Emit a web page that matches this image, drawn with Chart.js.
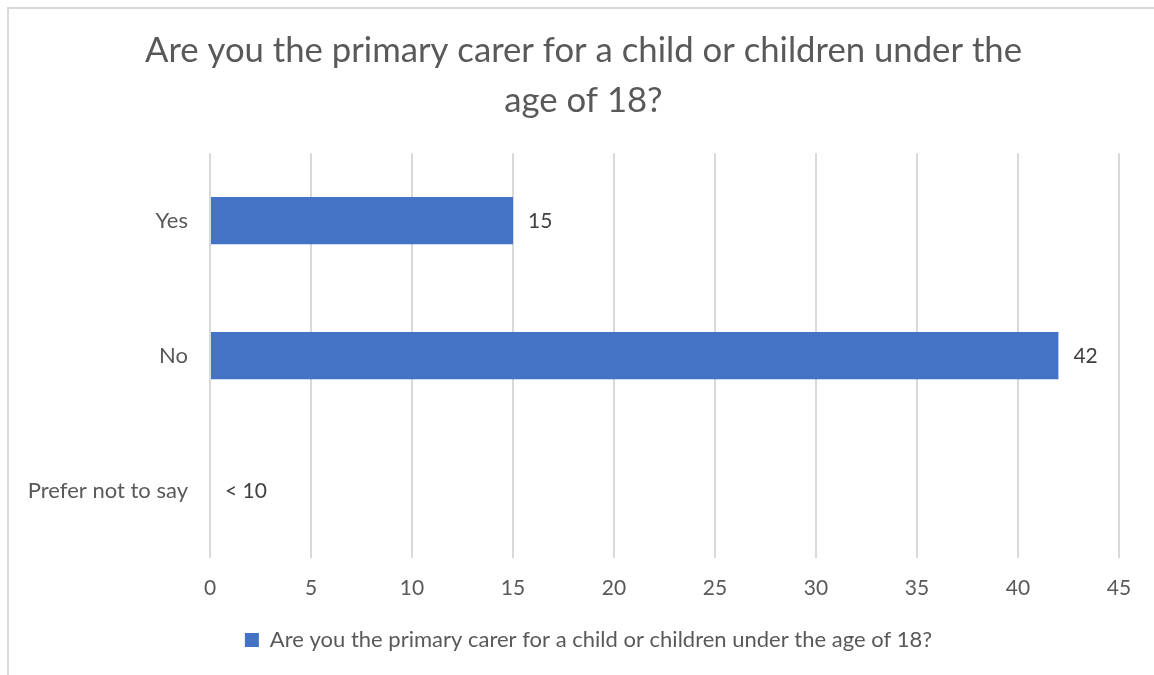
<!DOCTYPE html>
<html>
<head>
<meta charset="utf-8">
<script src="https://cdn.jsdelivr.net/npm/chart.js@4/dist/chart.umd.min.js"></script>
<style>
  html, body { margin: 0; padding: 0; background: #fff; }
  #frame { position: absolute; left: 0; top: 0; width: 1154px; height: 675px; }
  #edge { position: absolute; left: 7px; top: 7px; width: 1147px; height: 668px;
          border-top: 2px solid #d9d9d9; border-left: 2px solid #d9d9d9; box-sizing: border-box; }
</style>
</head>
<body>
<div id="frame"><canvas id="chart" width="1154" height="675"></canvas></div>
<div id="edge"></div>
<script>
// chart data
const categories = ['Yes', 'No', 'Prefer not to say'];
const responses = [15, 42, 0];
const barLabels = ['15', '42', '< 10'];
const seriesName = 'Are you the primary carer for a child or children under the age of 18?';
const titleLines = ['Are you the primary carer for a child or children under the', 'age of 18?'];

const textGrey = '#595959';
const fontFam = 'Lato, "Open Sans", sans-serif';

// draws the value labels to the right of each bar
const barLabelPlugin = {
    id: 'barLabels',
    afterDatasetsDraw(chart) {
        const ctx = chart.ctx;
        const meta = chart.getDatasetMeta(0);
        ctx.save();
        ctx.font = '21px ' + fontFam;
        ctx.fillStyle = '#404040';
        ctx.textBaseline = 'middle';
        ctx.textAlign = 'left';
        meta.data.forEach((bar, i) => {
            ctx.fillText(barLabels[i], bar.x + 15, bar.y + 1);
        });
        ctx.restore();
    }
};

// original has title + legend centred a little right of the canvas middle
const nudgeBlocks = {
    id: 'nudgeBlocks',
    afterLayout(chart) {
        if (chart.titleBlock) { chart.titleBlock.left += 18; chart.titleBlock.right += 18; }
        if (chart.legend) { chart.legend.left += 23; chart.legend.right += 23; }
    }
};

new Chart(document.getElementById('chart'), {
    type: 'bar',
    data: {
        labels: categories,
        datasets: [{
            label: seriesName,
            data: responses,
            backgroundColor: '#4472c4',
            borderWidth: 0,
            categoryPercentage: 0.35,
            barPercentage: 1
        }]
    },
    options: {
        indexAxis: 'y',
        responsive: false,
        animation: false,
        layout: { padding: { left: 12, right: 35, top: 0, bottom: 14 } },
        plugins: {
            title: {
                display: true,
                text: titleLines,
                color: textGrey,
                font: { family: fontFam, size: 34.7, weight: 'normal', lineHeight: 1.43 },
                padding: { top: 26, bottom: 28 }
            },
            legend: {
                position: 'bottom',
                labels: {
                    color: textGrey,
                    font: { family: fontFam, size: 22 },
                    boxWidth: 14,
                    boxHeight: 14,
                    padding: 8
                }
            },
            tooltip: { enabled: false }
        },
        scales: {
            x: {
                min: 0,
                max: 45,
                ticks: { stepSize: 5, color: textGrey, font: { family: fontFam, size: 21 }, padding: 18 },
                grid: { color: '#d9d9d9', lineWidth: 2, drawTicks: false },
                border: { display: false },
                afterFit(scale) { scale.height = 63; }
            },
            y: {
                ticks: { color: textGrey, font: { family: fontFam, size: 22 }, padding: 22 },
                grid: { display: false, drawTicks: false },
                border: { display: false },
                afterFit(scale) { scale.width = 198; }
            }
        }
    },
    plugins: [barLabelPlugin, nudgeBlocks]
});
</script>
</body>
</html>
